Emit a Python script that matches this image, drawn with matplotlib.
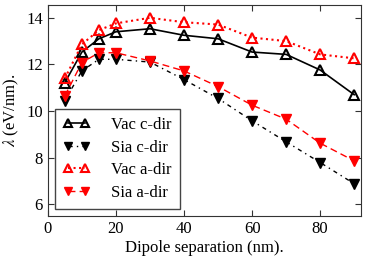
import matplotlib
matplotlib.use("Agg")
import matplotlib.pyplot as plt

plt.rcParams['font.family'] = ['Liberation Serif', 'DejaVu Serif']
plt.rcParams['mathtext.fontset'] = 'stix'

sep = [5, 10, 15, 20, 30, 40, 50, 60, 70, 80, 90]
vac_c = [11.22, 12.53, 13.1, 13.4, 13.53, 13.25, 13.1, 12.53, 12.43, 11.76, 10.7]
sia_c = [10.45, 11.72, 12.22, 12.22, 12.1, 11.35, 10.54, 9.58, 8.68, 7.79, 6.88]
vac_a = [11.4, 12.86, 13.47, 13.76, 14.0, 13.81, 13.71, 13.15, 13.0, 12.43, 12.26]
sia_a = [10.65, 12.08, 12.5, 12.5, 12.15, 11.72, 11.05, 10.25, 9.65, 8.62, 7.86]

fig = plt.figure(figsize=(3.68, 2.62), dpi=100)
ax = fig.add_axes([0.13, 0.176, 0.851, 0.805])

ax.plot(sep, vac_c, color='k', ls='-', marker='^', mfc='none', mec='k',
        ms=7.5, mew=1.5, lw=1.2, label='Vac c-dir')
ax.plot(sep, sia_c, color='k', ls=(0, (3, 3, 1, 3)), marker='v', mfc='k',
        mec='k', ms=7.5, lw=1.0, label='Sia c-dir')
ax.plot(sep, vac_a, color='r', ls=':', marker='^', mfc='none', mec='r',
        ms=7.5, mew=1.5, lw=1.5, label='Vac a-dir')
ax.plot(sep, sia_a, color='r', ls=(0, (5, 3)), marker='v', mfc='r', mec='r',
        ms=7.5, lw=1.0, label='Sia a-dir')

ax.set_xlim(0, 92)
ax.set_ylim(5.5, 14.55)
ax.set_xticks([0, 20, 40, 60, 80])
ax.set_yticks([6, 8, 10, 12, 14])
ax.tick_params(direction='in', top=True, right=True, labelsize=12, length=4,
               color='#333333')
for s in ax.spines.values():
    s.set_color('#333333')

ax.set_xlabel('Dipole separation (nm).', fontsize=12, labelpad=2)
ax.set_ylabel(r'$\lambda$ (eV/nm).', fontsize=12)

leg = ax.legend(loc='lower left', numpoints=2, fontsize=12, fancybox=False,
                edgecolor='#444444', framealpha=1, handlelength=1.6,
                markerscale=0.8, borderaxespad=0.4, labelspacing=0.4,
                handletextpad=1.3, borderpad=0.5)

fig.savefig('out.png', dpi=100)
